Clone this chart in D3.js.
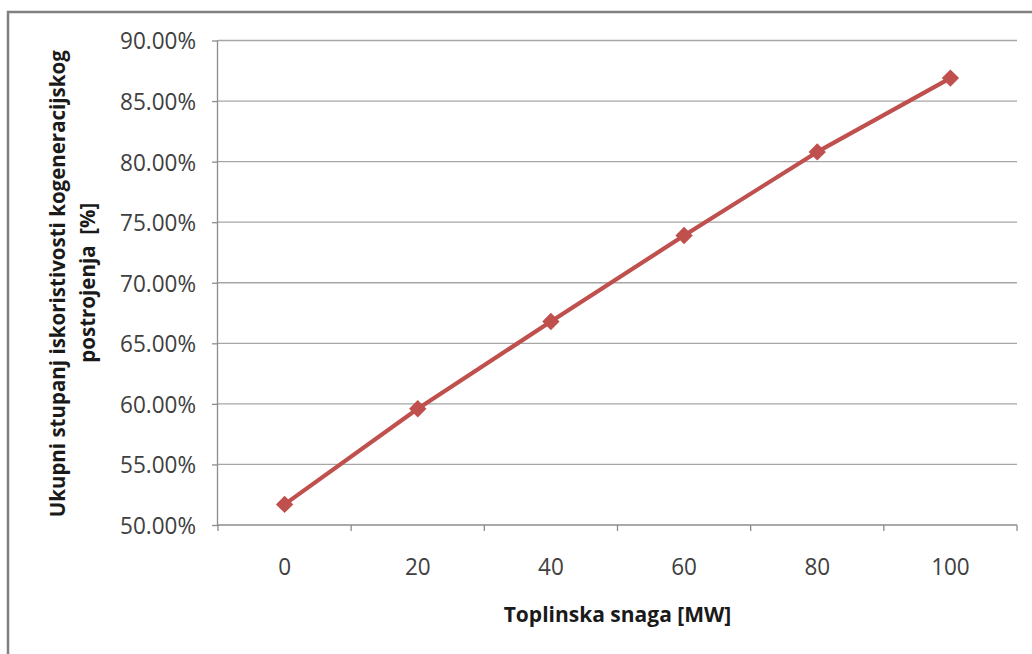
<!DOCTYPE html>
<html>
<head>
<meta charset="utf-8">
<script src="https://cdn.jsdelivr.net/npm/d3@7"></script>
<style>
  html, body { margin: 0; padding: 0; background: #ffffff; }
  svg { display: block; }
  text { font-family: "Open Sans", Lato, sans-serif; white-space: pre; }
</style>
</head>
<body>
<svg id="chart" width="1032" height="654"></svg>
<script>
// ---- data ----
const categories = ["0", "20", "40", "60", "80", "100"];
const efficiency = [51.7, 59.6, 66.8, 73.9, 80.8, 86.9];
const yTicks = [50, 55, 60, 65, 70, 75, 80, 85, 90];
const xTitle = "Toplinska snaga [MW]";
const yTitleLines = ["Ukupni stupanj iskoristivosti kogeneracijskog", "postrojenja  [%]"];

// ---- layout ----
const W = 1032, H = 654;
const plot = { left: 218, right: 1017, top: 40.5, bottom: 525 };
const svg = d3.select("#chart");
const TS = 1.04; // slight vertical stretch of tick text in the reference
const FS = 22.5;

svg.append("rect").attr("x", 0).attr("y", 0).attr("width", W).attr("height", H).attr("fill", "#fff");
svg.append("rect").attr("x", 8).attr("y", 12).attr("width", W + 20).attr("height", H + 20)
  .attr("fill", "none").attr("stroke", "#808080").attr("stroke-width", 2.5);

const x = d3.scaleBand().domain(categories).range([plot.left, plot.right]).paddingInner(0).paddingOuter(0);
const y = d3.scaleLinear().domain([50, 90]).range([plot.bottom, plot.top]);

// gridlines
svg.append("g").selectAll("line").data(yTicks.filter(t => t > 50)).join("line")
  .attr("x1", plot.left).attr("x2", plot.right)
  .attr("y1", d => y(d)).attr("y2", d => y(d))
  .attr("stroke", "#a6a6a6").attr("stroke-width", 1.3);

// y axis
const yAxis = svg.append("g").attr("transform", `translate(${plot.left},0)`)
  .call(d3.axisLeft(y).tickValues(yTicks).tickSize(6).tickPadding(16)
    .tickFormat(d => d.toFixed(2) + "%"));
yAxis.select(".domain").attr("stroke", "#8c8c8c").attr("stroke-width", 1.3).attr("d", `M-0.5,${plot.bottom}V${plot.top}`);
yAxis.selectAll(".tick line").attr("stroke", "#8c8c8c").attr("stroke-width", 1.3);
yAxis.selectAll(".tick text").attr("font-size", FS).attr("fill", "#404040")
  .attr("dy", "0.36em").attr("transform", `scale(1,${TS})`);

// x axis
const xAxis = svg.append("g").attr("transform", `translate(0,${plot.bottom})`)
  .call(d3.axisBottom(x).tickSize(0).tickPadding(41));
xAxis.select(".domain").remove();
xAxis.append("line").attr("x1", plot.left).attr("x2", plot.right).attr("y1", 0).attr("y2", 0)
  .attr("stroke", "#8c8c8c").attr("stroke-width", 1.3);
const bounds = categories.map(c => x(c)).concat([plot.right]);
xAxis.selectAll(".bt").data(bounds).join("line").attr("class", "bt")
  .attr("x1", d => d).attr("x2", d => d).attr("y1", 0).attr("y2", 6)
  .attr("stroke", "#8c8c8c").attr("stroke-width", 1.3);
xAxis.selectAll(".tick text").attr("font-size", FS).attr("fill", "#404040")
  .attr("transform", `scale(1,${TS})`).attr("dy", "0.3em");

// line
const cx = d => x(d) + x.bandwidth() / 2;
const pts = categories.map((c, i) => [cx(c), y(efficiency[i])]);
svg.append("path").attr("d", d3.line()(pts))
  .attr("fill", "none").attr("stroke", "#C0504D").attr("stroke-width", 4.2).attr("stroke-linejoin", "round");
svg.append("g").selectAll("path").data(pts).join("path")
  .attr("d", d3.symbol(d3.symbolSquare, 150)())
  .attr("transform", d => `translate(${d[0]},${d[1]}) rotate(45)`)
  .attr("fill", "#C0504D");

// titles
svg.append("text").attr("transform", `translate(${(plot.left + plot.right) / 2},622)`)
  .attr("text-anchor", "middle").attr("font-size", 21).attr("font-weight", "bold").attr("fill", "#1a1a1a")
  .text(xTitle);

const cy = (plot.top + plot.bottom) / 2;
svg.append("text").attr("transform", `translate(65,${cy + 1}) rotate(-90)`)
  .attr("text-anchor", "middle").attr("font-size", 20.5).attr("font-weight", "bold").attr("fill", "#1a1a1a")
  .text(yTitleLines[0]);
svg.append("text").attr("transform", `translate(95,${cy}) rotate(-90)`)
  .attr("text-anchor", "middle").attr("font-size", 20.5).attr("font-weight", "bold").attr("fill", "#1a1a1a")
  .text(yTitleLines[1]);
</script>
</body>
</html>
